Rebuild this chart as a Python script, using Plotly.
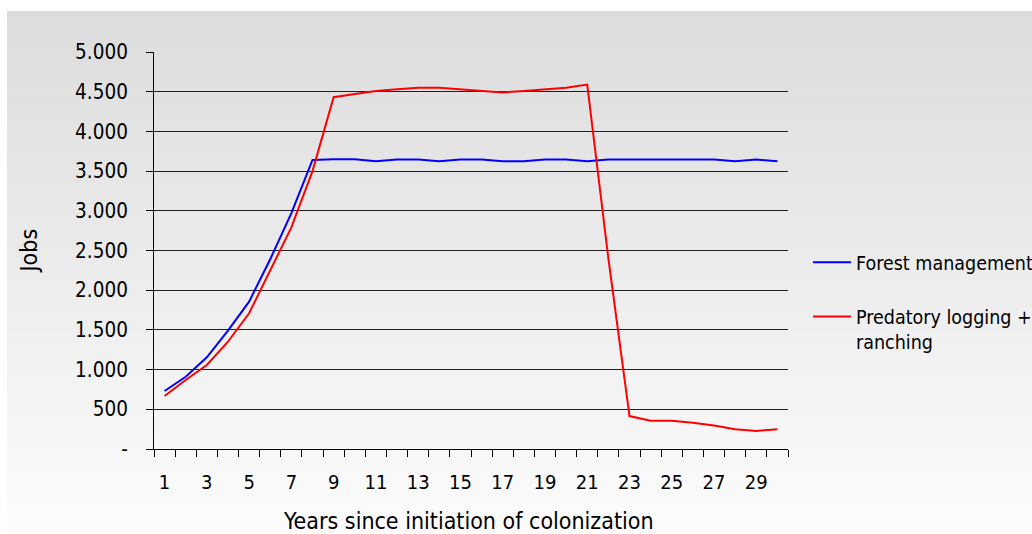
import plotly.graph_objects as go

years = list(range(1, 31))
forest_management = [730, 910, 1155, 1490, 1855, 2390, 2970, 3640, 3650, 3650,
                     3625, 3645, 3645, 3625, 3645, 3645, 3625, 3625, 3645, 3645,
                     3625, 3645, 3645, 3645, 3645, 3645, 3645, 3625, 3645, 3625]
predatory_logging = [667, 869, 1058, 1351, 1709, 2250, 2790, 3500, 4430, 4470,
                     4510, 4530, 4550, 4550, 4530, 4510, 4490, 4510, 4530, 4550,
                     4590, 2400, 415, 356, 356, 331, 296, 248, 227, 248]
y_tick_vals = [0, 500, 1000, 1500, 2000, 2500, 3000, 3500, 4000, 4500, 5000]
y_tick_text = ["-", "500", "1.000", "1.500", "2.000", "2.500", "3.000",
               "3.500", "4.000", "4.500", "5.000"]
x_tick_vals = list(range(1, 30, 2))

FONT = "DejaVu Sans Condensed, DejaVu Sans, sans-serif"
W, H = 1032, 534
L, R, T, B = 154, 244, 52, 85
pw, ph = W - L - R, H - T - B

def px_x(x):
    return (x - L) / pw

def px_y(y):
    return (H - B - y) / ph

fig = go.Figure()
fig.add_trace(go.Scatter(x=years, y=forest_management, mode="lines",
                         name="Forest management", legendgroup="a",
                         line=dict(color="#0000ff", width=2)))
fig.add_trace(go.Scatter(x=years, y=predatory_logging, mode="lines",
                         name="Predatory logging +<br>ranching", legendgroup="b",
                         line=dict(color="#ff0000", width=2)))

# gradient background in bands
shapes = []
n = 70
top, bot = 11, H
for i in range(n):
    y0 = top + (bot - top) * i / n
    y1 = top + (bot - top) * (i + 1) / n
    c = int(round(220 + (252 - 220) * (i + 0.5) / n))
    shapes.append(dict(type="rect", xref="paper", yref="paper",
                       x0=px_x(7), x1=px_x(W + 2), y0=px_y(y1 + 0.5), y1=px_y(y0),
                       fillcolor=f"rgb({c},{c},{c})", line=dict(width=0),
                       layer="below"))

fig.update_layout(
    width=W, height=H,
    margin=dict(l=L, r=R, t=T, b=B, autoexpand=False),
    paper_bgcolor="white",
    plot_bgcolor="rgba(0,0,0,0)",
    font=dict(family=FONT, size=20, color="black"),
    shapes=shapes,
    showlegend=True,
    legend=dict(x=px_x(808), y=px_y(243), xanchor="left", yanchor="top",
                bgcolor="rgba(0,0,0,0)", font=dict(size=19.5, family=FONT),
                valign="top", tracegroupgap=26, traceorder="grouped",
                itemwidth=38),
    xaxis=dict(range=[0.5, 30.5], tickmode="array", tickvals=x_tick_vals,
               ticks="", showgrid=False, zeroline=False,
               showline=True, linecolor="black", linewidth=1,
               ticklabelstandoff=15,
               tickfont=dict(size=20, family=FONT),
               minor=dict(ticks="outside", tick0=0.5, dtick=1, ticklen=7,
                          tickcolor="black", showgrid=False)),
    yaxis=dict(range=[0, 5000], tickmode="array", tickvals=y_tick_vals,
               ticktext=y_tick_text, ticks="outside", ticklen=7,
               tickcolor="black", showgrid=True, gridcolor="#202020",
               gridwidth=1, zeroline=False, showline=True, linecolor="black",
               linewidth=1, ticklabelstandoff=14,
               tickfont=dict(size=20.5, family=FONT)),
    annotations=[
        dict(text="Jobs", xref="paper", yref="paper", x=px_x(28), y=0.5,
             textangle=-90, showarrow=False, xanchor="center", yanchor="middle",
             font=dict(size=23, family=FONT)),
        dict(text="Years since initiation of colonization", xref="paper",
             yref="paper", x=px_x(468), y=px_y(521), showarrow=False,
             xanchor="center", yanchor="middle",
             font=dict(size=23, family=FONT)),
    ],
)

fig.write_html("out.html")
